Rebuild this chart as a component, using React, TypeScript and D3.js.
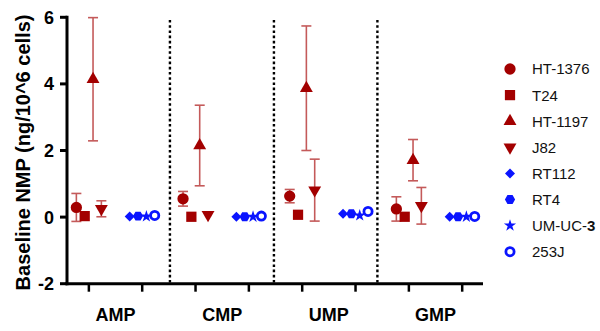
import React from "react";
import * as d3 from "d3";

const categories = ["AMP", "CMP", "UMP", "GMP"];
const cellLines = ["HT-1376", "T24", "HT-1197", "J82", "RT112", "RT4", "UM-UC-3", "253J"];
const yTicks = [-2, 0, 2, 4, 6];

// means per cell line across AMP, CMP, UMP, GMP
const ht1376Mean = [0.29, 0.55, 0.63, 0.245];
const ht1376Sd = [0.42, 0.22, 0.2, 0.365];
const t24Mean = [0.03, 0.01, 0.07, 0.01];
const t24Sd = [0, 0, 0, 0];
const ht1197Mean = [4.14, 2.15, 3.87, 1.71];
const ht1197Sd = [1.85, 1.21, 1.87, 0.62];
const j82Mean = [0.25, 0.07, 0.81, 0.34];
const j82Sd = [0.24, 0, 0.93, 0.55];
const rt112Mean = [0.02, 0.01, 0.1, 0.01];
const rt4Mean = [0.03, 0.01, 0.1, 0.01];
const umuc3Mean = [0.02, 0.01, 0.05, 0.01];
const j253Mean = [0.05, 0.03, 0.17, 0.02];
const zeroSd = [0, 0, 0, 0];

// separators between categories (in slot units)
const separators = [1.52, 3.47, 5.41];

const RED = "#a30000";
const RED_ERR = "#c45a5a";
const BLUE = "#0a14ff";

const series = [
  { name: cellLines[0], mean: ht1376Mean, sd: ht1376Sd, group: 0, idx: 0, shape: "circle" },
  { name: cellLines[1], mean: t24Mean, sd: t24Sd, group: 0, idx: 1, shape: "square" },
  { name: cellLines[2], mean: ht1197Mean, sd: ht1197Sd, group: 0, idx: 2, shape: "triangle" },
  { name: cellLines[3], mean: j82Mean, sd: j82Sd, group: 0, idx: 3, shape: "down" },
  { name: cellLines[4], mean: rt112Mean, sd: zeroSd, group: 1, idx: 0, shape: "diamond" },
  { name: cellLines[5], mean: rt4Mean, sd: zeroSd, group: 1, idx: 1, shape: "hexagon" },
  { name: cellLines[6], mean: umuc3Mean, sd: zeroSd, group: 1, idx: 2, shape: "star" },
  { name: cellLines[7], mean: j253Mean, sd: zeroSd, group: 1, idx: 3, shape: "ring" },
];

const x = d3.scaleLinear().domain([-0.41, 7.39]).range([67, 483]);
const y = d3.scaleLinear().domain([-2, 6]).range([283.7, 17.3]);
const dodge = d3.scalePoint<number>().domain([0, 1, 2, 3]).range([-12.5, 12.5]);

function hexPath(r: number) {
  const pts = d3.range(6).map((i) => {
    const a = (Math.PI / 3) * i;
    return [r * Math.cos(a), r * Math.sin(a)] as [number, number];
  });
  return "M" + pts.map((p) => p.join(",")).join("L") + "Z";
}

function Marker({ shape, cx, cy }: { shape: string; cx: number; cy: number }) {
  const t = `translate(${cx},${cy})`;
  switch (shape) {
    case "circle":
      return <path transform={t} d={d3.symbol(d3.symbolCircle, 100)()!} fill={RED} />;
    case "square":
      return <path transform={t} d={d3.symbol(d3.symbolSquare, 105)()!} fill={RED} />;
    case "triangle":
      return <path transform={t} d={d3.symbol(d3.symbolTriangle, 72)()!} fill={RED} />;
    case "down":
      return <path transform={t + " rotate(180)"} d={d3.symbol(d3.symbolTriangle, 72)()!} fill={RED} />;
    case "diamond":
      return <path transform={t + " rotate(45)"} d={d3.symbol(d3.symbolSquare, 50)()!} fill={BLUE} />;
    case "hexagon":
      return <path transform={t} d={hexPath(5.1)} fill={BLUE} />;
    case "star":
      return <path transform={t} d={d3.symbol(d3.symbolStar, 46)()!} fill={BLUE} />;
    case "ring":
      return <circle cx={cx} cy={cy} r={4.1} fill="#fff" stroke={BLUE} strokeWidth={2.8} />;
  }
  return null;
}

export default function App() {
  const font = "Arial, 'Liberation Sans', sans-serif";
  return (
    <svg width={600} height={331} style={{ position: "absolute", left: 0, top: 0 }} fontFamily={font}>
      <rect width={600} height={331} fill="#fff" />
      {/* separators */}
      {separators.map((s, i) => (
        <line key={i} x1={x(s)} x2={x(s)} y1={20} y2={283} stroke="#000" strokeWidth={2.4} strokeDasharray="2.6,2.6" />
      ))}
      {/* error bars */}
      {series.map((s) =>
        s.mean.map((m, ci) => {
          if (!s.sd[ci]) return null;
          const cx = x(ci * 2 + s.group) + dodge(s.idx)!;
          const y1 = y(m + s.sd[ci]);
          const y2 = y(m - s.sd[ci]);
          return (
            <g key={s.name + ci} stroke={RED_ERR} strokeWidth={1.6}>
              <line x1={cx} x2={cx} y1={y1} y2={y2} />
              <line x1={cx - 5} x2={cx + 5} y1={y1} y2={y1} />
              <line x1={cx - 5} x2={cx + 5} y1={y2} y2={y2} />
            </g>
          );
        })
      )}
      {/* markers */}
      {series.map((s) =>
        s.mean.map((m, ci) => (
          <Marker key={s.name + "m" + ci} shape={s.shape} cx={x(ci * 2 + s.group) + dodge(s.idx)!} cy={y(m)} />
        ))
      )}
      {/* y axis */}
      <line x1={67} x2={67} y1={y(6) - 1.5} y2={y(-2) + 1.5} stroke="#000" strokeWidth={3} />
      {yTicks.map((t) => (
        <g key={t}>
          <line x1={60} x2={67} y1={y(t)} y2={y(t)} stroke="#000" strokeWidth={3} />
          <text x={54} y={y(t)} dy="0.36em" textAnchor="end" fontWeight="bold" fontSize={18}>
            {t}
          </text>
        </g>
      ))}
      {/* x axis */}
      <line x1={65.5} x2={483} y1={y(-2)} y2={y(-2)} stroke="#000" strokeWidth={3} />
      {d3.range(8).map((i) => (
        <line key={i} x1={x(i)} x2={x(i)} y1={y(-2)} y2={y(-2) + 8} stroke="#000" strokeWidth={2.5} />
      ))}
      {categories.map((c, i) => (
        <text key={c} x={x(i * 2 + 0.5)} y={321} textAnchor="middle" fontWeight="bold" fontSize={18}>
          {c}
        </text>
      ))}
      {/* y title */}
      <text
        transform={`translate(30,${(y(6) + y(-2)) / 2 + 2}) rotate(-90)`}
        textAnchor="middle"
        fontWeight="bold"
        fontSize={20}
      >
        Baseline NMP (ng/10^6 cells)
      </text>
      {/* legend */}
      {series.map((s, i) => {
        const ly = 69 + i * 26.1;
        return (
          <g key={s.name}>
            <Marker shape={s.shape} cx={510} cy={ly} />
            <text x={532} y={ly} dy="0.36em" fontSize={15} fill="#111">
              {s.name === "UM-UC-3" ? (
                <>
                  UM-UC-<tspan fontWeight="bold">3</tspan>
                </>
              ) : (
                s.name
              )}
            </text>
          </g>
        );
      })}
    </svg>
  );
}
